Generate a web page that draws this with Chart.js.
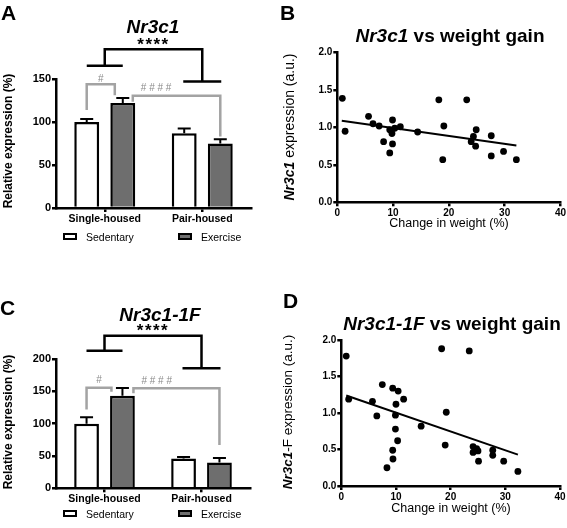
<!DOCTYPE html>
<html>
<head>
<meta charset="utf-8">
<script src="https://cdn.jsdelivr.net/npm/chart.js@4.4.1/dist/chart.umd.min.js"></script>
<style>
  body { margin: 0; background: #fff; width: 567px; height: 528px; position: relative; overflow: hidden;
         font-family: "Liberation Sans", Arial, Helvetica, sans-serif; color: #000; }
  canvas { position: absolute; }
  .t { position: absolute; white-space: nowrap; line-height: 1; }
  .letter { font-weight: bold; font-size: 21px; }
  .title { font-weight: bold; font-size: 19px; transform: translate(-50%, -50%); }
  .ytitle { transform: translate(-50%, -50%) rotate(-90deg); }
  .xtitle { font-size: 12.5px; transform: translate(-50%, -50%); }
  .box { position: absolute; box-sizing: border-box; width: 14px; height: 7px; border: 2.5px solid #000; }
  .leg { position: absolute; font-size: 10.5px; line-height: 1; transform: translateY(-50%); white-space: nowrap; }
</style>
</head>
<body>
<canvas id="chartA" width="283" height="264" style="left:0;top:0"></canvas>
<canvas id="chartB" width="284" height="264" style="left:283px;top:0"></canvas>
<canvas id="chartC" width="283" height="264" style="left:0;top:264px"></canvas>
<canvas id="chartD" width="284" height="264" style="left:283px;top:264px"></canvas>

<div class="t letter" style="left:1px;top:2px">A</div>
<div class="t letter" style="left:280px;top:2px">B</div>
<div class="t letter" style="left:0;top:297px">C</div>
<div class="t letter" style="left:283px;top:290px">D</div>

<div class="t title" style="left:153px;top:26px"><i>Nr3c1</i></div>
<div class="t title" style="left:450px;top:35px"><i>Nr3c1</i> vs weight gain</div>
<div class="t title" style="left:160px;top:314px"><i>Nr3c1-1F</i></div>
<div class="t title" style="left:452px;top:323px"><i>Nr3c1-1F</i> vs weight gain</div>

<div class="t ytitle" style="left:8px;top:141px;font-weight:bold;font-size:12px">Relative expression (%)</div>
<div class="t ytitle" style="left:8px;top:422px;font-weight:bold;font-size:12px">Relative expression (%)</div>
<div class="t ytitle" style="left:289px;top:127px;font-size:14px"><b><i>Nr3c1</i></b> expression (a.u.)</div>
<div class="t ytitle" style="left:288px;top:412px;font-size:13.5px"><b><i>Nr3c1</i></b>-F expression (a.u.)</div>

<div class="t xtitle" style="left:449px;top:223px">Change in weight (%)</div>
<div class="t xtitle" style="left:451px;top:508px">Change in weight (%)</div>

<div id="legendA"></div>
<div id="legendC"></div>

<script>
// Categories and series names
const groups = ['Single-housed', 'Pair-housed'];
const seriesNames = ['Sedentary', 'Exercise'];
const seriesFill = ['#ffffff', '#6e6e6e'];

// Panel A - Nr3c1, relative expression (%)
const sedA = [100, 87];
const exA = [122, 75];
const sedErrA = [3.5, 5.5];
const exErrA = [6, 5];
const ticksA = [0, 50, 100, 150];

// Panel C - Nr3c1-1F, relative expression (%)
const sedC = [100, 46];
const exC = [143, 40];
const sedErrC = [10, 2.5];
const exErrC = [12, 7];
const ticksC = [0, 50, 100, 150, 200];

// Panel B - Nr3c1 expression (a.u.) vs change in weight (%)
const weightB = [0.9, 1.4, 5.6, 6.4, 7.5, 8.3, 9.4, 9.4, 9.8, 9.9, 9.9, 10.3, 11.3, 14.4, 18.2, 18.9, 19.1,
                 23.2, 24.0, 24.4, 24.8, 24.9, 27.6, 27.6, 29.8, 32.1];
const exprB = [1.39, 0.95, 1.15, 1.05, 1.02, 0.81, 0.66, 0.97, 0.92, 1.10, 0.78, 0.99, 1.01, 0.94, 1.37, 0.57, 1.02,
               1.37, 0.81, 0.88, 0.75, 0.97, 0.89, 0.62, 0.68, 0.57];
const fitWeightB = [0.8, 32.1];
const fitExprB = [1.09, 0.76];

// Panel D - Nr3c1-1F expression (a.u.) vs change in weight (%)
const weightD = [0.9, 1.35, 5.7, 6.5, 7.5, 8.35, 9.4, 9.45, 9.4, 9.9, 9.9, 10.0, 10.3, 10.4, 11.4, 14.6, 18.35,
                 19.0, 19.2, 23.4, 24.1, 24.1, 24.75, 25.0, 25.1, 27.7, 27.7, 29.7, 32.3];
const exprD = [1.78, 1.19, 1.16, 0.96, 1.39, 0.25, 0.49, 0.37, 1.34, 0.97, 0.78, 1.12, 0.62, 1.30, 1.19, 0.82, 1.88,
               0.56, 1.01, 1.85, 0.54, 0.46, 0.51, 0.48, 0.34, 0.49, 0.42, 0.34, 0.20];
const fitWeightD = [0.9, 32.3];
const fitExprD = [1.24, 0.43];

// Scatter tick labels
const weightTicks = [0, 10, 20, 30, 40];
const exprTicks = [0, 0.5, 1, 1.5, 2];

Chart.defaults.font.family = '"Liberation Sans", Arial, Helvetica, sans-serif';
Chart.defaults.color = '#000';

const FONT = '"Liberation Sans", Arial, Helvetica, sans-serif';

// Error bars (upward only) drawn on top of each bar
const errorBars = {
  id: 'errorBars',
  afterDatasetsDraw(chart) {
    const ctx = chart.ctx;
    const y = chart.scales.y;
    ctx.save();
    ctx.strokeStyle = '#000';
    ctx.lineWidth = 2;
    chart.data.datasets.forEach((ds, i) => {
      chart.getDatasetMeta(i).data.forEach((bar, j) => {
        const top = y.getPixelForValue(ds.data[j] + ds.errors[j]);
        ctx.beginPath();
        ctx.moveTo(bar.x, bar.y);
        ctx.lineTo(bar.x, top);
        ctx.moveTo(bar.x - 6.5, top);
        ctx.lineTo(bar.x + 6.5, top);
        ctx.stroke();
      });
    });
    ctx.restore();
  }
};

// Significance brackets above the bars
const brackets = {
  id: 'brackets',
  afterDraw(chart, args, o) {
    if (!o.big) return;
    const ctx = chart.ctx;
    const y = v => chart.scales.y.getPixelForValue(v);
    const mid = c => chart.scales.x.getPixelForValue(c);
    const bar = (d, c) => chart.getDatasetMeta(d).data[c].x;
    ctx.save();
    ctx.lineJoin = 'miter';

    // housing effect ****
    const x0 = mid(0), x1 = mid(1);
    ctx.strokeStyle = '#000';
    ctx.lineWidth = 2.5;
    ctx.beginPath();
    ctx.moveTo(x0 - 18, y(o.big.left)); ctx.lineTo(x0 + 18, y(o.big.left));
    ctx.moveTo(x0, y(o.big.left)); ctx.lineTo(x0, y(o.big.top));
    ctx.lineTo(x1, y(o.big.top)); ctx.lineTo(x1, y(o.big.right));
    ctx.moveTo(x1 - 19, y(o.big.right)); ctx.lineTo(x1 + 19, y(o.big.right));
    ctx.stroke();
    ctx.fillStyle = '#000';
    ctx.font = 'bold 17px ' + FONT;
    ctx.letterSpacing = '1.5px';
    ctx.textAlign = 'center';
    ctx.textBaseline = 'alphabetic';
    ctx.fillText('****', (x0 + x1) / 2, y(o.big.text));
    ctx.letterSpacing = '0px';

    // # : sedentary vs exercise, single-housed
    ctx.strokeStyle = '#a3a3a3';
    const a = bar(0, 0), b = bar(1, 0) + o.one.dx;
    ctx.beginPath();
    ctx.moveTo(a, y(o.one.left)); ctx.lineTo(a, y(o.one.top));
    ctx.lineTo(b, y(o.one.top)); ctx.lineTo(b, y(o.one.right));
    ctx.stroke();
    // #### : exercise single vs exercise pair
    const c = bar(1, 0) + o.four.dx, d = bar(1, 1);
    ctx.beginPath();
    ctx.moveTo(c, y(o.four.left)); ctx.lineTo(c, y(o.four.top));
    ctx.lineTo(d, y(o.four.top)); ctx.lineTo(d, y(o.four.right));
    ctx.stroke();

    ctx.fillStyle = '#8a8a8a';
    ctx.font = '10px ' + FONT;
    ctx.textBaseline = 'alphabetic';
    ctx.textAlign = 'center';
    ctx.fillText('#', (a + b) / 2, y(o.one.text));
    ctx.textAlign = 'left';
    ctx.fillText('# # # #', c + 8, y(o.four.text));
    ctx.restore();
  }
};

function axisStyle(size) {
  return {
    grid: { display: true, drawOnChartArea: false, offset: false, tickLength: 4, color: '#000', lineWidth: 2.5 },
    border: { display: true, color: '#000', width: 2.5 },
    ticks: { font: { size: size, weight: 'bold' }, padding: 1, color: '#000' }
  };
}

function barChart(id, sed, ex, sedErr, exErr, ticks, area, sig) {
  const xs = axisStyle(10.5);
  const ys = axisStyle(11);
  new Chart(document.getElementById(id), {
    type: 'bar',
    data: {
      labels: groups,
      datasets: [
        { label: seriesNames[0], data: sed, errors: sedErr, backgroundColor: seriesFill[0],
          borderColor: '#000', borderWidth: 2.5 },
        { label: seriesNames[1], data: ex, errors: exErr, backgroundColor: seriesFill[1],
          borderColor: '#000', borderWidth: 2.5 }
      ]
    },
    options: {
      responsive: false,
      animation: false,
      layout: { padding: area.padding },
      categoryPercentage: 0.74,
      barPercentage: 0.69,
      plugins: { legend: { display: false }, tooltip: { enabled: false }, brackets: sig },
      scales: {
        x: Object.assign(xs, { afterFit: s => { s.height = area.xHeight; } }),
        y: Object.assign(ys, {
          min: 0, max: ticks[ticks.length - 1],
          afterBuildTicks: s => { s.ticks = ticks.map(v => ({ value: v })); },
          afterFit: s => { s.width = area.yWidth; }
        })
      }
    },
    plugins: [errorBars, brackets]
  });
}

function scatterChart(id, wx, ey, fx, fy, area) {
  const xs = axisStyle(10);
  const ys = axisStyle(10);
  new Chart(document.getElementById(id), {
    type: 'scatter',
    data: {
      datasets: [
        { data: wx.map((v, i) => ({ x: v, y: ey[i] })), backgroundColor: '#000', borderColor: '#000',
          pointRadius: 3.4, pointBorderWidth: 0 },
        { data: fx.map((v, i) => ({ x: v, y: fy[i] })), showLine: true, borderColor: '#000',
          borderWidth: 2, pointRadius: 0 }
      ]
    },
    options: {
      responsive: false,
      animation: false,
      layout: { padding: area.padding },
      plugins: { legend: { display: false }, tooltip: { enabled: false } },
      scales: {
        x: Object.assign(xs, {
          min: 0, max: 40,
          afterBuildTicks: s => { s.ticks = weightTicks.map(v => ({ value: v })); },
          afterFit: s => { s.height = area.xHeight; }
        }),
        y: Object.assign(ys, {
          min: 0, max: 2,
          afterBuildTicks: s => { s.ticks = exprTicks.map(v => ({ value: v })); },
          ticks: Object.assign(ys.ticks, { callback: v => v.toFixed(1) }),
          afterFit: s => { s.width = area.yWidth; }
        })
      }
    }
  });
}

barChart('chartA', sedA, exA, sedErrA, exErrA, ticksA,
  { padding: { top: 79, right: 32, left: 0, bottom: 0 }, yWidth: 56, xHeight: 56 },
  { big: { top: 184.5, left: 165.5, right: 147, text: 184 },
    one: { top: 143.8, left: 114, right: 131, dx: -8, text: 146 },
    four: { top: 130.6, left: 123.6, right: 83, dx: 10, text: 136 } });

barChart('chartC', sedC, exC, sedErrC, exErrC, ticksC,
  { padding: { top: 95, right: 33, left: 0, bottom: 0 }, yWidth: 56, xHeight: 39.7 },
  { big: { top: 236, left: 212.8, right: 185.6, text: 235 },
    one: { top: 155.6, left: 122, right: 149.4, dx: -11, text: 163 },
    four: { top: 154.7, left: 147, right: 67, dx: 11, text: 161 } });

scatterChart('chartB', weightB, exprB, fitWeightB, fitExprB,
  { padding: { top: 52.7, right: 5.7, left: 0, bottom: 0 }, yWidth: 54.3, xHeight: 61.7 });

scatterChart('chartD', weightD, exprD, fitWeightD, fitExprD,
  { padding: { top: 76, right: 7, left: 0, bottom: 0 }, yWidth: 58.3, xHeight: 42 });

// Legends below the bar panels
function legend(elId, top, boxX, textX) {
  const el = document.getElementById(elId);
  seriesNames.forEach((name, i) => {
    const box = document.createElement('div');
    box.className = 'box';
    box.style.left = boxX[i] + 'px';
    box.style.top = (top - 3.5) + 'px';
    box.style.background = seriesFill[i];
    el.appendChild(box);
    const lab = document.createElement('div');
    lab.className = 'leg';
    lab.style.left = textX[i] + 'px';
    lab.style.top = top + 'px';
    lab.textContent = name;
    el.appendChild(lab);
  });
}
legend('legendA', 236.5, [63, 178], [86, 201]);
legend('legendC', 513.5, [63, 178], [86, 201]);
</script>
</body>
</html>
